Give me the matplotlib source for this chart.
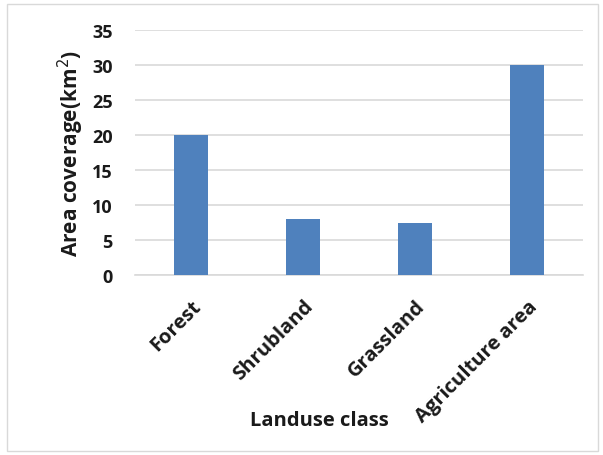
import matplotlib.pyplot as plt
from matplotlib.patches import Rectangle

classes = ['Forest', 'Shrubland', 'Grassland', 'Agriculture area']
area_km2 = [20, 8, 7.4, 30]
y_ticks = [0, 5, 10, 15, 20, 25, 30, 35]

plt.rcParams['font.family'] = ['Open Sans', 'DejaVu Sans']
text_color = '#1A1A1A'

fig = plt.figure(figsize=(6.03, 4.56), dpi=100)
ax = fig.add_axes([135 / 603, 1 - 276 / 456, 448 / 603, 245 / 456])

x = list(range(len(classes)))
ax.bar(x, area_km2, width=0.31, color='#4F81BD', zorder=3)

ax.set_xlim(-0.5, len(classes) - 0.5)
ax.set_ylim(0, 35)
ax.set_yticks(y_ticks)
ax.set_yticklabels([str(t) for t in y_ticks], fontsize=13, fontweight='bold',
                   color=text_color)
ax.set_xticks(x)
ax.set_xticklabels(classes, rotation=45, ha='right', rotation_mode='anchor',
                   fontsize=14.5, fontweight='bold', color=text_color)
ax.tick_params(axis='y', length=0, pad=16)
ax.tick_params(axis='x', length=0, pad=15)

ax.grid(axis='y', color='#D9D9D9', linewidth=1.2, zorder=0)
for side in ['top', 'right', 'left']:
    ax.spines[side].set_visible(False)
ax.spines['bottom'].set_color('#D9D9D9')
ax.spines['bottom'].set_linewidth(1.2)

ax.set_ylabel('Area coverage(km$^2$)', fontsize=15, fontweight='bold',
              color=text_color)
ax.yaxis.set_label_coords(-49 / 448, 0.5)
fig.text(319 / 603, 1 - 421 / 456, 'Landuse class', ha='center', va='center',
         fontsize=14.5, fontweight='bold', color=text_color)

# light frame round the whole chart area
fig.patches.append(Rectangle((7 / 603, 4 / 456), 591 / 603, 447 / 456,
                             transform=fig.transFigure, fill=False,
                             edgecolor='#D9D9D9', linewidth=1))

fig.savefig('out.png', dpi=100)
